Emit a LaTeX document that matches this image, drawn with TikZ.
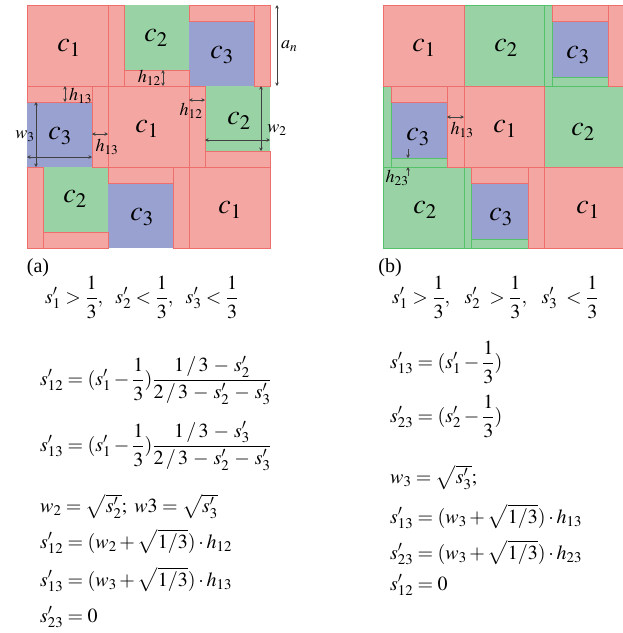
\documentclass[tikz,border=0pt]{standalone}
\usepackage{amsmath}
\usepackage{mathptmx}
\usepackage{fontspec}
\setmainfont{Liberation Serif}
\usetikzlibrary{arrows.meta}
\definecolor{cellpink}{HTML}{F4A7A2}
\definecolor{cellred}{HTML}{EE6E6C}
\definecolor{cellgreen}{HTML}{99D3A5}
\definecolor{cellgreenline}{HTML}{55C26A}
\definecolor{cellblue}{HTML}{99A1D1}
\newcommand{\onethird}{\dfrac{1\rule[-2pt]{0pt}{2pt}}{\rule{0pt}{18pt}3}}

\begin{document}
\begin{tikzpicture}[
    x=1pt, y=-1pt,
    pinkbox/.style={fill=cellpink, draw=cellred, line width=0.7pt},
    greenbox/.style={fill=cellgreen, draw=cellgreenline, line width=0.7pt},
    greenfill/.style={fill=cellgreen},
    bluefill/.style={fill=cellblue},
    cell_label/.style={inner sep=0pt, font=\fontsize{28}{30}\selectfont},
    dim_label/.style={inner sep=0pt, font=\fontsize{18}{20}\selectfont},
    dimarrow/.style={{Stealth[length=3.5pt,width=3.5pt]}-{Stealth[length=3.5pt,width=3.5pt]}, line width=0.6pt, draw=black!75},
    onearrow/.style={-{Stealth[length=3.5pt,width=3.5pt]}, line width=0.6pt, draw=black!75},
    eqn/.style={inner sep=0pt, anchor=base west, font=\fontsize{20}{24}\selectfont},
    caption/.style={inner sep=0pt, font=\fontsize{20}{24}\selectfont}
]
\useasboundingbox (0,0) rectangle (623,633);

% panel (a): squares first
\fill[greenfill] (124,5) rectangle (189,70);
\fill[bluefill] (189,21) rectangle (254,86);
\fill[bluefill] (27,102) rectangle (92,167);
\fill[greenfill] (205,86) rectangle (270,151);
\fill[greenfill] (43,167) rectangle (108,232);
\fill[bluefill] (108,183) rectangle (173,248);

% panel (a): pink pieces
\draw[pinkbox] (27,5) rectangle (108,86);
\draw[pinkbox] (108,5) rectangle (124,86);
\draw[pinkbox] (124,70) rectangle (189,86);
\draw[pinkbox] (189,5) rectangle (254,21);
\draw[pinkbox] (254,5) rectangle (270,86);
\draw[pinkbox] (27,86) rectangle (92,102);
\draw[pinkbox] (92,86) rectangle (108,167);
\draw[pinkbox] (108,86) rectangle (189,167);
\draw[pinkbox] (189,86) rectangle (205,167);
\draw[pinkbox] (205,151) rectangle (270,167);
\draw[pinkbox] (27,167) rectangle (43,248);
\draw[pinkbox] (43,232) rectangle (108,248);
\draw[pinkbox] (108,167) rectangle (173,183);
\draw[pinkbox] (173,167) rectangle (189,248);
\draw[pinkbox] (189,167) rectangle (270,248);

\node[cell_label] (a11) at (69,48) {$c_1$};
\node[cell_label] (a12) at (156,38) {$c_2$};
\node[cell_label] (a13) at (222,55) {$c_3$};
\node[cell_label] (a21) at (60,136) {$c_3$};
\node[cell_label] (a22) at (147,129) {$c_1$};
\node[cell_label] (a23) at (239,121) {$c_2$};
\node[cell_label] (a31) at (75,199) {$c_2$};
\node[cell_label] (a32) at (142,217) {$c_3$};
\node[cell_label] (a33) at (230,210) {$c_1$};

% panel (a): sizes
\draw[dimarrow] (277,5) -- (277,86);
\node[dim_label, anchor=west] (an) at (281,46) {$a_n$};
\draw[dimarrow] (163,70) -- (163,86);
\node[dim_label, anchor=east] (h12top) at (161,78) {$h_{12}$};
\draw[dimarrow] (65,86) -- (65,102);
\node[dim_label, anchor=west] (h13top) at (69,96) {$h_{13}$};
\draw[dimarrow] (189,100) -- (205,100);
\node[dim_label] (h12mid) at (191,111) {$h_{12}$};
\draw[dimarrow] (92,134) -- (108,134);
\node[dim_label] (h13mid) at (107,147) {$h_{13}$};
\draw[dimarrow] (36,102) -- (36,167);
\draw[dimarrow] (27,157) -- (92,157);
\node[dim_label] (w3a) at (25,136) {$w_3$};
\draw[dimarrow] (261,86) -- (261,151);
\draw[dimarrow] (205,140) -- (270,140);
\node[dim_label] (w2a) at (277,130) {$w_2$};

% panel (b): squares first
\fill[bluefill] (552,21) rectangle (608,77);
\fill[bluefill] (391,102) rectangle (447,158);
\fill[bluefill] (471,183) rectangle (528,239);

% panel (b): green pieces
\draw[greenbox] (464,5) rectangle (544,86);
\draw[greenbox] (544,5) rectangle (552,86);
\draw[greenbox] (552,77) rectangle (608,86);
\draw[greenbox] (383,86) rectangle (391,167);
\draw[greenbox] (391,158) rectangle (447,167);
\draw[greenbox] (544,86) rectangle (623,167);
\draw[greenbox] (383,167) rectangle (464,248);
\draw[greenbox] (464,167) rectangle (471,248);
\draw[greenbox] (471,239) rectangle (528,248);

% panel (b): pink pieces
\draw[pinkbox] (383,5) rectangle (464,86);
\draw[pinkbox] (552,5) rectangle (608,21);
\draw[pinkbox] (608,5) rectangle (623,86);
\draw[pinkbox] (391,86) rectangle (447,102);
\draw[pinkbox] (447,86) rectangle (464,167);
\draw[pinkbox] (464,86) rectangle (544,167);
\draw[pinkbox] (471,167) rectangle (528,183);
\draw[pinkbox] (528,167) rectangle (544,248);
\draw[pinkbox] (544,167) rectangle (623,248);

\node[cell_label] (b11) at (424,48) {$c_1$};
\node[cell_label] (b12) at (506,48) {$c_2$};
\node[cell_label] (b13) at (578,55) {$c_3$};
\node[cell_label] (b21) at (418,137) {$c_3$};
\node[cell_label] (b22) at (505,129) {$c_1$};
\node[cell_label] (b23) at (583,132) {$c_2$};
\node[cell_label] (b31) at (425,210) {$c_2$};
\node[cell_label] (b32) at (501,217) {$c_3$};
\node[cell_label] (b33) at (588,210) {$c_1$};

% panel (b): sizes
\draw[dimarrow] (447,117) -- (464,117);
\node[dim_label] (h13b) at (462,130) {$h_{13}$};
\draw[onearrow] (408,149) -- (408,158);
\draw[onearrow] (408,176) -- (408,167);
\node[dim_label] (h23b) at (397,178) {$h_{23}$};

% captions and equations (a)
\node[caption] (capa) at (38,268) {(a)};
\node[eqn] (eqa1) at (45,303) {$s^{\prime}_{1}>\onethird,\ \ s^{\prime}_{2}<\onethird,\ \ s^{\prime}_{3}<\onethird$};
\node[eqn] (eqa2) at (40,385) {$s^{\prime}_{12}=(s^{\prime}_{1}-\onethird)\dfrac{1\,/\,3\,-\,s^{\prime}_{2}}{2\,/\,3\,-\,s^{\prime}_{2}\,-\,s^{\prime}_{3}}$};
\node[eqn] (eqa3) at (40,451) {$s^{\prime}_{13}=(s^{\prime}_{1}-\onethird)\dfrac{1\,/\,3\,-\,s^{\prime}_{3}}{2\,/\,3\,-\,s^{\prime}_{2}\,-\,s^{\prime}_{3}}$};
\node[eqn] (eqa4) at (40,512) {$w_{2}=\sqrt{s^{\prime}_{2}};\ w3=\sqrt{s^{\prime}_{3}}$};
\node[eqn] (eqa5) at (40,548) {$s^{\prime}_{12}=(w_{2}+\sqrt{1/3})\cdot h_{12}$};
\node[eqn] (eqa6) at (40,586) {$s^{\prime}_{13}=(w_{3}+\sqrt{1/3})\cdot h_{13}$};
\node[eqn] (eqa7) at (40,622) {$s^{\prime}_{23}=0$};

% captions and equations (b)
\node[caption] (capb) at (390,268) {(b)};
\node[eqn] (eqb1) at (392,303) {$s^{\prime}_{1}>\onethird,\ \ \,s^{\prime}_{2}\;>\onethird,\ \ \,s^{\prime}_{3}\;<\onethird$};
\node[eqn] (eqb2) at (390,368) {$s^{\prime}_{13}=(s^{\prime}_{1}-\onethird)$};
\node[eqn] (eqb3) at (390,422) {$s^{\prime}_{23}=(s^{\prime}_{2}-\onethird)$};
\node[eqn] (eqb4) at (390,483) {$w_{3}=\sqrt{s^{\prime}_{3}};$};
\node[eqn] (eqb5) at (390,523) {$s^{\prime}_{13}=(w_{3}+\sqrt{1/3})\cdot h_{13}$};
\node[eqn] (eqb6) at (390,559) {$s^{\prime}_{23}=(w_{3}+\sqrt{1/3})\cdot h_{23}$};
\node[eqn] (eqb7) at (390,590) {$s^{\prime}_{12}=0$};

\end{tikzpicture}
\end{document}
